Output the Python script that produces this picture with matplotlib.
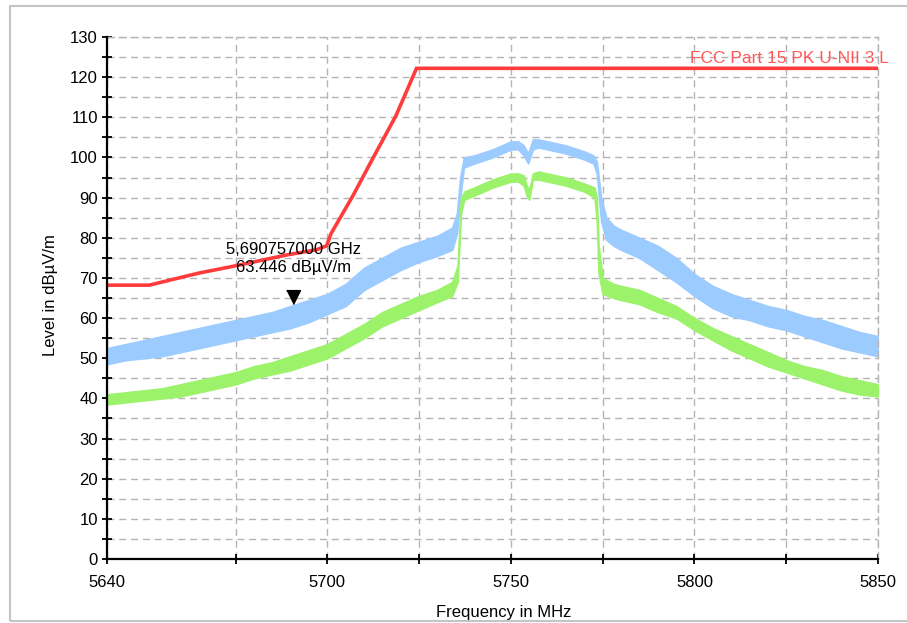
import matplotlib
matplotlib.use("Agg")
import matplotlib.pyplot as plt
from matplotlib.patches import Rectangle

plt.rcParams['font.family'] = ['Liberation Sans', 'DejaVu Sans']

# ---------------- data ----------------
x_major = [5640, 5700, 5750, 5800, 5850]
x_minor = [5675, 5725, 5775, 5825]
y_major = list(range(0, 131, 10))
y_minor = list(range(5, 130, 10))

limit_label = "FCC Part 15 PK U-NII 3 L"
limit_f = [5640, 5651.5, 5665, 5676, 5688.8, 5697, 5699.8, 5701, 5707, 5712.3, 5718.7, 5724.3, 5850]
limit_v = [68.2, 68.2, 71.2, 73.2, 75.7, 77.0, 78.0, 81.0, 90.5, 99.6, 110.4, 122.2, 122.2]

peak_f = [5640, 5645, 5650, 5655, 5660, 5665, 5670, 5675, 5680, 5685, 5690, 5695,
          5700, 5705, 5710, 5715, 5720, 5725, 5730, 5734, 5735.3, 5736.2, 5737.2,
          5740, 5745, 5750, 5752, 5753.5, 5754.7, 5756, 5757.5, 5760, 5765, 5770,
          5772.5, 5773.4, 5774.6, 5776, 5778, 5780, 5785, 5790, 5795, 5800, 5805,
          5810, 5815, 5820, 5825, 5830, 5835, 5840, 5845, 5850]
peak_lo = [48.5, 49.5, 50.0, 50.5, 51.5, 52.5, 53.5, 54.5, 55.5, 56.5, 57.5, 59.0,
           61.0, 63.0, 67.0, 69.5, 72.0, 74.0, 75.5, 77.0, 81.0, 90.0, 97.5,
           98.5, 100.0, 102.0, 102.0, 100.5, 98.5, 102.0, 102.5, 102.0, 101.0, 99.5,
           98.5, 96.0, 84.0, 79.5, 78.0, 77.0, 75.0, 72.0, 69.0, 65.5, 62.5,
           60.5, 59.5, 58.0, 57.0, 55.5, 54.0, 52.5, 51.5, 50.5]
peak_hi = [52.5, 53.5, 54.5, 55.5, 56.5, 57.5, 58.5, 59.5, 60.5, 61.5, 63.0, 64.5,
           66.0, 68.5, 72.5, 75.0, 77.5, 79.0, 80.5, 82.5, 86.0, 95.0, 100.0,
           100.5, 102.0, 104.0, 104.0, 103.0, 101.0, 104.5, 104.5, 104.0, 103.0, 101.5,
           100.5, 99.0, 90.0, 85.0, 83.0, 82.0, 80.0, 78.0, 75.0, 71.0, 68.0,
           66.0, 64.5, 63.0, 62.0, 60.5, 59.5, 58.0, 56.5, 55.5]

avg_f = [5640, 5645, 5650, 5655, 5660, 5665, 5670, 5675, 5680, 5685, 5690, 5695,
         5700, 5705, 5710, 5715, 5720, 5725, 5730, 5734, 5735.5, 5736.4, 5737.3,
         5740, 5745, 5750, 5752, 5753.5, 5754.3, 5755, 5756, 5757.5, 5760, 5765, 5770,
         5772.8, 5773.4, 5773.9, 5775, 5778, 5780, 5785, 5790, 5795, 5800, 5805,
         5810, 5815, 5820, 5825, 5830, 5835, 5840, 5845, 5850]
avg_lo = [38.5, 39.0, 39.5, 40.0, 40.5, 41.5, 42.5, 43.5, 45.0, 46.0, 47.0, 48.5,
          50.0, 52.5, 55.0, 58.0, 60.0, 62.0, 64.0, 65.5, 69.0, 86.0, 89.5,
          90.5, 92.5, 94.0, 94.0, 93.0, 90.5, 89.5, 94.5, 94.5, 94.0, 93.0, 91.5,
          90.0, 84.0, 71.0, 66.0, 65.0, 64.5, 63.5, 61.5, 60.0, 57.0, 54.5,
          52.0, 50.0, 48.0, 46.5, 45.0, 43.5, 42.0, 41.0, 40.5]
avg_hi = [41.0, 41.5, 42.0, 42.5, 43.5, 44.5, 45.5, 46.5, 48.0, 49.0, 50.5, 52.0,
          53.5, 56.0, 58.5, 61.5, 63.5, 65.5, 67.0, 69.0, 73.0, 90.0, 91.5,
          92.5, 94.5, 96.0, 96.0, 95.5, 93.0, 92.0, 96.0, 96.5, 96.0, 95.0, 93.5,
          92.5, 90.0, 78.0, 70.0, 68.5, 68.0, 67.0, 65.0, 63.0, 60.0, 57.5,
          55.5, 53.5, 51.5, 49.5, 48.0, 47.0, 45.5, 44.5, 43.5]

marker_f = 5690.757
marker_v = 63.446
marker_text = "5,690757000 GHz\n63.446 dBµV/m"

# ---------------- figure ----------------
W, H = 907, 623
fig = plt.figure(figsize=(W / 100, H / 100), dpi=100)
fig.patch.set_facecolor('white')
ax = fig.add_axes([107 / W, 1 - 559 / H, 771 / W, 522 / H])

grid_col = '#b4b4b4'
dash = (0, (5, 3.5))

ax.set_xlim(5640, 5850)
ax.set_ylim(0, 130)
ax.set_xticks(x_major)
ax.set_xticks(x_minor, minor=True)
ax.set_yticks(y_major)
ax.set_yticks(y_minor, minor=True)
ax.grid(True, which='both', color=grid_col, linestyle=dash, linewidth=1.0, zorder=0)
ax.set_axisbelow(True)

for s in ['top', 'right']:
    ax.spines[s].set_color(grid_col)
    ax.spines[s].set_linestyle(dash)
    ax.spines[s].set_linewidth(1.0)
for s in ['left', 'bottom']:
    ax.spines[s].set_color('black')
    ax.spines[s].set_linewidth(1.6)
    ax.spines[s].set_zorder(5)

ax.tick_params(which='both', direction='inout', length=7, width=1.3, color='black',
               top=False, right=False)
ax.tick_params(axis='x', which='both', pad=8, labelsize=12)
ax.tick_params(axis='y', which='both', pad=3, labelsize=12)

blue = '#9ccbff'
green = '#9cf26a'
red = '#ff3c3c'

ax.fill_between(peak_f, peak_lo, peak_hi, color=blue, linewidth=1.2, edgecolor=blue, zorder=2)
ax.fill_between(avg_f, avg_lo, avg_hi, color=green, linewidth=1.2, edgecolor=green, zorder=3)
ax.plot(limit_f, limit_v, color=red, linewidth=2.6, zorder=4, solid_joinstyle='miter')

tri = [(-0.5, 1.0), (0.5, 1.0), (0.0, 0.0)]
ax.plot([marker_f], [marker_v], linestyle='none', marker=tri, markersize=20,
        color='black', zorder=6)
ax.annotate(marker_text, xy=(marker_f, marker_v), xytext=(0, 33),
            textcoords='offset points', ha='center', va='center',
            fontsize=12, color='black', linespacing=1.25, zorder=7)

ax.text(1.014, 0.958, limit_label, transform=ax.transAxes, ha='right', va='center',
        fontsize=12.5, color='#ff5a5a', zorder=7)

fig.text(50 / W, 1 - 295 / H, 'Level in dBµV/m', rotation=90, ha='center', va='center',
         fontsize=12)
fig.text(504 / W, 1 - 613 / H, 'Frequency in MHz', ha='center', va='center', fontsize=12)

border = Rectangle((10 / W, 2 / H), 1.2, 1 - 8 / H, transform=fig.transFigure,
                   fill=False, edgecolor='#c4c4c4', linewidth=1.5, zorder=10)
fig.add_artist(border)

fig.savefig('out.png', dpi=100)
